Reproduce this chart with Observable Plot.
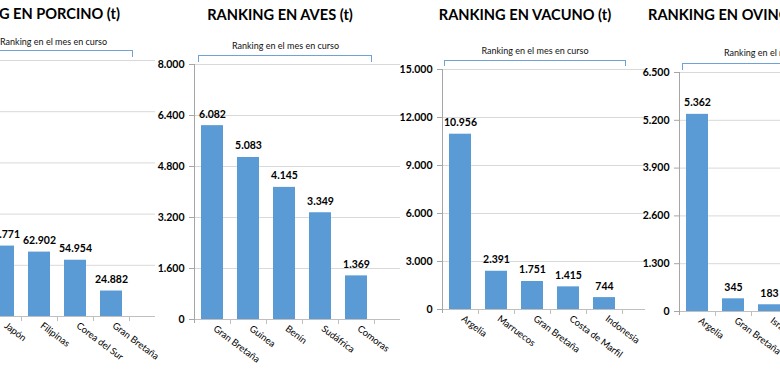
<!DOCTYPE html>
<html><head><meta charset="utf-8">
<script src="https://cdn.jsdelivr.net/npm/d3@7"></script>
<script src="https://cdn.jsdelivr.net/npm/@observablehq/plot@0.6"></script>
<style>
html,body{margin:0;padding:0;background:#fff;}
#wrap{position:relative;width:780px;height:377px;overflow:hidden;font-family:Lato,"Open Sans",sans-serif;}
.title{position:absolute;font-weight:700;font-size:14.6px;white-space:nowrap;color:#000;line-height:1;}
.sub{position:absolute;font-size:9px;white-space:nowrap;color:#111;line-height:1;}
.bracket{position:absolute;border:1px solid #6fa3d8;border-bottom:none;box-sizing:border-box;}
.panel{position:absolute;}
.panel svg{overflow:visible;max-width:none !important;}
</style></head><body><div id="wrap"></div>
<script>
// ---- data ----
const porcinoCategories = ["Japón", "Filipinas", "Corea del Sur", "Gran Bretaña"];
const porcinoValues = [68771, 62902, 54954, 24882];
const porcinoTicks = [0, 50000, 100000, 150000, 200000, 250000];

const avesCategories = ["Gran Bretaña", "Guinea", "Benín", "Sudáfrica", "Comoras"];
const avesValues = [6082, 5083, 4145, 3349, 1369];
const avesTicks = [0, 1600, 3200, 4800, 6400, 8000];

const vacunoCategories = ["Argelia", "Marruecos", "Gran Bretaña", "Costa de Marfil", "Indonesia"];
const vacunoValues = [10956, 2391, 1751, 1415, 744];
const vacunoTicks = [0, 3000, 6000, 9000, 12000, 15000];

const ovinoCategories = ["Argelia", "Gran Bretaña", "Israel"];
const ovinoValues = [5362, 345, 183];
const ovinoTicks = [0, 1300, 2600, 3900, 5200, 6500];

const titlePorcino = "RANKING EN PORCINO (t)";
const titleAves = "RANKING EN AVES (t)";
const titleVacuno = "RANKING EN VACUNO (t)";
const titleOvino = "RANKING EN OVINO (t)";
const subtitle = "Ranking en el mes en curso";

// ---- layout ----
const loc = d3.formatLocale({decimal: ",", thousands: ".", grouping: [3], currency: ["", ""]});
const fmt = loc.format(",d");
const ML = 50, MT = 10, MR = 6, MB = 60, STEP = 36;
const wrap = document.getElementById("wrap");

const panels = [
  {cats: porcinoCategories, vals: porcinoValues, ticks: porcinoTicks, title: titlePorcino, showY: false,
   axisX: -51, top: 60, base: 316, bandOffset: 36, frameW: 206,
   titlePos: {right: 780 - 120, top: 7}, subPos: {left: 0, top: 36.5}, br: {l: -60, r: 133, t: 50, h: 7}},
  {cats: avesCategories, vals: avesValues, ticks: avesTicks, title: titleAves, showY: true,
   axisX: 194, top: 64, base: 319, bandOffset: 0, frameW: 206,
   titlePos: {center: 280, top: 8}, subPos: {center: 285.5, top: 40.5}, br: {l: 198, r: 372, t: 55, h: 7}},
  {cats: vacunoCategories, vals: vacunoValues, ticks: vacunoTicks, title: titleVacuno, showY: true,
   axisX: 442, top: 69, base: 309, bandOffset: 0, frameW: 203,
   titlePos: {center: 525, top: 8}, subPos: {center: 535, top: 45.5}, br: {l: 444, r: 626, t: 60, h: 6}},
  {cats: ovinoCategories, vals: ovinoValues, ticks: ovinoTicks, title: titleOvino, showY: true,
   axisX: 679, top: 72, base: 311, bandOffset: 0, frameW: 206,
   titlePos: {left: 648, top: 8}, subPos: {left: 724, top: 48}, br: {l: 682, r: 900, t: 63, h: 7}}
];

function place(el, pos) {
  if (pos.left != null) el.style.left = pos.left + "px";
  if (pos.right != null) el.style.right = pos.right + "px";
  if (pos.center != null) { el.style.left = pos.center + "px"; el.style.transform = "translateX(-50%)"; }
  el.style.top = pos.top + "px";
}

for (const cfg of panels) {
  const data = cfg.cats.map((c, i) => ({c, v: cfg.vals[i]}));
  const n = cfg.cats.length;
  const W = ML + cfg.frameW + MR;
  const H = cfg.base - cfg.top + MT + MB;
  const x0 = ML + cfg.bandOffset;
  const marks = [
    Plot.gridY(cfg.ticks.slice(1), {stroke: "#d9d9d9", strokeOpacity: 1}),
    Plot.barY(data, {x: "c", y: "v", fill: "#5b9bd5"}),
    Plot.ruleY([0], {stroke: "#bfbfbf"}),
    Plot.axisX({tickSize: 5, tickFormat: () => "", dx: STEP / 2, stroke: "#bfbfbf", label: null}),
    Plot.axisX({tickSize: 0, tickRotate: 37, tickPadding: 8, dx: 2, fontSize: 9.5, fill: "#000", label: null}),
    Plot.text(data, {x: "c", y: "v", text: d => fmt(d.v), dy: -8, lineAnchor: "bottom", fontWeight: "bold", fontSize: 10.5, fill: "#000"})
  ];
  if (cfg.showY) {
    marks.push(
      Plot.ruleX([cfg.cats[0]], {dx: -STEP / 2 - cfg.bandOffset, stroke: "#a6a6a6", insetBottom: -4}),
      Plot.axisY({ticks: cfg.ticks, tickFormat: fmt, tickSize: 5, tickPadding: 5, fontWeight: "bold", fontSize: 10.5, stroke: "#a6a6a6", fill: "#000", label: null})
    );
  } else {
    marks.push(Plot.axisY({ticks: [], label: null}));
  }
  const chart = Plot.plot({
    width: W, height: H,
    marginLeft: ML, marginRight: MR, marginTop: MT, marginBottom: MB,
    style: {fontFamily: "Lato, 'Open Sans', sans-serif", fontSize: "10px", color: "#000", background: "transparent", overflow: "visible", maxWidth: "none"},
    x: {type: "band", domain: cfg.cats, range: [x0, x0 + STEP * n], paddingInner: 0.39, paddingOuter: 0.195},
    y: {domain: [0, d3.max(cfg.ticks)]},
    marks
  });
  const div = document.createElement("div");
  div.className = "panel";
  div.style.left = (cfg.axisX - ML) + "px";
  div.style.top = (cfg.top - MT) + "px";
  div.style.width = W + "px";
  div.style.height = H + "px";
  div.appendChild(chart);
  wrap.appendChild(div);

  const t = document.createElement("div");
  t.className = "title";
  t.textContent = cfg.title;
  place(t, cfg.titlePos);
  wrap.appendChild(t);

  const s = document.createElement("div");
  s.className = "sub";
  s.textContent = subtitle;
  place(s, cfg.subPos);
  wrap.appendChild(s);

  const b = document.createElement("div");
  b.className = "bracket";
  b.style.left = cfg.br.l + "px";
  b.style.width = (cfg.br.r - cfg.br.l) + "px";
  b.style.top = cfg.br.t + "px";
  b.style.height = cfg.br.h + "px";
  wrap.appendChild(b);
}
</script></body></html>
